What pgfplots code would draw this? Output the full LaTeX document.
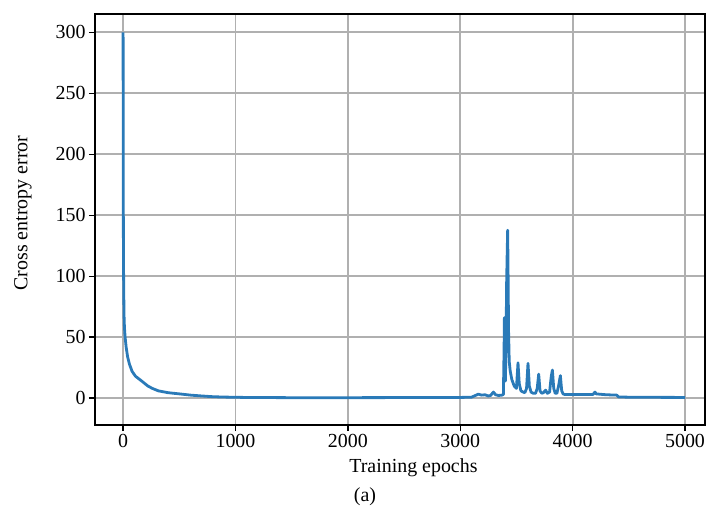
\documentclass[border=0pt]{standalone}
\usepackage{fontspec}
\setmainfont{Liberation Serif}
\usepackage{pgfplots}
\pgfplotsset{compat=1.18}
\definecolor{lineblue}{HTML}{2A7AB8}
\definecolor{gridgray}{HTML}{B0B0B0}

\begin{document}
\begin{tikzpicture}
  \path[use as bounding box] (-95bp,-84bp) rectangle ++(707bp,509bp);
  \begin{axis}[
      scale only axis, width=610bp, height=411bp,
      xmin=-250, xmax=5178, ymin=-22, ymax=315,
      xtick={0,1000,...,5000}, ytick={0,50,...,300},
      /pgf/number format/1000 sep={},
      /pgf/number format/assume math mode=true,
      tick align=outside, tick pos=left,
      major tick length=6bp,
      every tick/.style={black, line width=1.4bp},
      axis line style={black, line width=2bp},
      grid=major, major grid style={gridgray, line width=1.8bp},
      tick label style={font=\fontsize{20}{24}\selectfont},
      label style={font=\fontsize{20}{24}\selectfont},
      xlabel={Training epochs},
      ylabel={Cross entropy error},
      xlabel style={at={(axis description cs:0.522,-0.104)}, anchor=center},
      ylabel style={at={(axis description cs:-0.118,0.516)}, anchor=center, rotate=0},
    ]
    \addplot[lineblue, line width=2.8bp, line join=round] coordinates {
      (0,300) (1,220) (2,160) (3,120) (5,96) (8,69) (12,58) (18,50) (27,42)
      (40,34) (56,28) (80,22) (110,18) (166,14) (220,10) (260,8) (314,6)
      (400,4.5) (450,4) (522,3.3) (600,2.5) (700,1.8) (800,1.2) (900,0.9)
      (1085,0.6) (1500,0.4) (2000,0.4) (2500,0.5) (3000,0.6) (3100,0.8)
      (3130,2) (3161,3.3) (3190,2.5) (3220,2.8) (3250,1.8) (3270,2.2)
      (3295,5) (3315,2.8) (3340,2.2) (3370,2.5) (3384,3) (3390,40) (3393,66)
      (3397,30) (3402,14) (3408,50) (3413,96) (3418,120) (3422,137.7)
      (3426,100) (3430,55) (3436,30) (3445,22) (3460,15) (3480,10) (3500,8)
      (3514,29) (3525,12) (3540,6) (3560,5) (3575,4.5) (3590,8) (3603,28.5)
      (3615,10) (3630,5) (3650,4) (3670,4) (3685,8) (3698,19.7) (3710,6)
      (3725,4) (3740,4.5) (3760,6.6) (3775,4) (3795,5) (3810,18) (3820,23)
      (3832,8) (3845,4) (3860,4) (3875,10) (3891,18.5) (3903,6) (3915,3.5)
      (3930,3) (4000,3) (4100,3) (4180,3) (4199,5) (4210,3.5) (4300,2.8)
      (4392,2.5) (4410,1) (4500,0.8) (4700,0.7) (5000,0.6)
    };
  \end{axis}
  \node[font=\fontsize{20}{24}\selectfont] at (270bp,-72bp) {(a)};
\end{tikzpicture}
\end{document}
